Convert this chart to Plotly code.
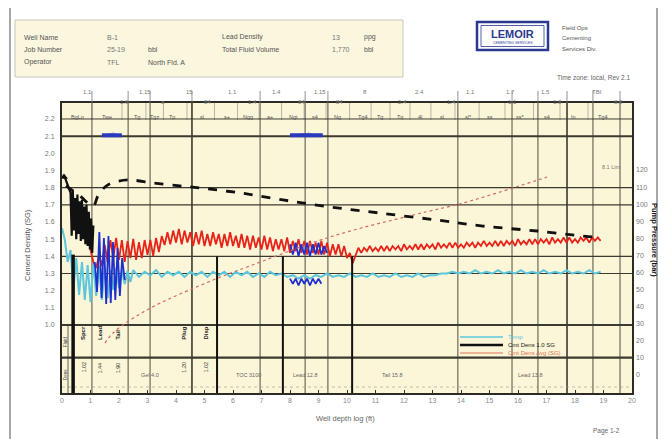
import plotly.graph_objects as go

# ---------------- data ----------------
x_ticks = list(range(0, 21))
left_ticks = [1.0, 1.1, 1.2, 1.3, 1.4, 1.5, 1.6, 1.7, 1.8, 1.9, 2.0, 2.1, 2.2]
right_ticks = [0, 10, 20, 30, 40, 50, 60, 70, 80, 90, 100, 110, 120]

# density (red), sampled every 0.1 from 0.8
red_x0, red_dx = 0.8, 0.1
red_vals = [1.641, 1.553, 1.437, 1.367, 1.332, 1.408, 1.344, 1.466, 1.367, 1.495,
            1.390, 1.507, 1.379, 1.495, 1.367, 1.489, 1.390, 1.501, 1.379, 1.483,
            1.390, 1.495, 1.408, 1.495, 1.402, 1.507, 1.425, 1.518, 1.466,
            1.54, 1.47, 1.55, 1.48, 1.56, 1.47, 1.55, 1.48, 1.54, 1.46,
            1.54, 1.47, 1.55, 1.46, 1.53, 1.46, 1.54, 1.47, 1.53, 1.45,
            1.53, 1.46, 1.54, 1.46, 1.52, 1.45, 1.53, 1.45, 1.52, 1.44,
            1.52, 1.45, 1.51, 1.44, 1.52, 1.44, 1.51, 1.43, 1.50, 1.44,
            1.50, 1.43, 1.51, 1.42, 1.49, 1.43, 1.50, 1.42, 1.49, 1.41,
            1.49, 1.42, 1.48, 1.41, 1.49, 1.41, 1.48, 1.40, 1.47, 1.41,
            1.47, 1.40, 1.46, 1.39, 1.42, 1.36, 1.40,
            1.45, 1.42, 1.45, 1.43, 1.46, 1.43, 1.45, 1.43, 1.46, 1.43,
            1.46, 1.43, 1.46, 1.44, 1.46, 1.43, 1.47, 1.44, 1.46, 1.44,
            1.47, 1.44, 1.47, 1.44, 1.47, 1.45, 1.47, 1.44, 1.48, 1.45,
            1.47, 1.45, 1.48, 1.45, 1.48, 1.45, 1.47, 1.45, 1.48, 1.46,
            1.48, 1.45, 1.48, 1.46, 1.49, 1.46, 1.48, 1.46, 1.49, 1.46,
            1.49, 1.46, 1.49, 1.47, 1.49, 1.46, 1.50, 1.47, 1.49, 1.47,
            1.50, 1.47, 1.50, 1.47, 1.50, 1.48, 1.50, 1.47, 1.51, 1.48,
            1.50, 1.48, 1.51, 1.48, 1.51, 1.48, 1.50, 1.48, 1.51, 1.49,
            1.51, 1.48, 1.51, 1.49, 1.51, 1.49]

# early density (black)
blk_x0, blk_dx = 0.3, 0.04
blk_vals = [1.77, 1.52, 1.78, 1.55, 1.74, 1.50, 1.76, 1.53, 1.72, 1.49, 1.73,
            1.50, 1.69, 1.47, 1.70, 1.46, 1.66, 1.44, 1.62, 1.42, 1.58]
blk_start_x = [0.10, 0.30]
blk_start_v = [1.86, 1.77]

# blue segments
blue1_x = [1.15, 1.23, 1.31, 1.39, 1.47, 1.55, 1.63, 1.71, 1.79, 1.87, 1.95, 2.03, 2.11, 2.2]
blue1_v = [1.367, 1.192, 1.542, 1.157, 1.507, 1.122, 1.518, 1.128, 1.483, 1.146, 1.448, 1.169, 1.390, 1.262]
blue2_x0, blue2_dx = 8.0, 0.1
blue2_v = [1.47, 1.41, 1.48, 1.40, 1.47, 1.41, 1.48, 1.40, 1.47, 1.41, 1.48, 1.41, 1.46, 1.42]
blue3_x0, blue3_dx = 8.0, 0.1
blue3_v = [1.27, 1.24, 1.27, 1.23, 1.27, 1.24, 1.27, 1.23, 1.27, 1.24, 1.27, 1.24]

# temperature-like (cyan)
cy1_x0, cy1_dx = 0.0, 0.1
cy1_v = [1.565, 1.495, 1.367, 1.437, 1.204, 1.390, 1.175, 1.367, 1.146, 1.349,
         1.134, 1.367, 1.169, 1.344, 1.146, 1.332, 1.157, 1.320, 1.204, 1.332,
         1.215, 1.320, 1.239, 1.314, 1.250]
cy2_x0, cy2_dx = 2.5, 0.2
cy2_v = [1.32, 1.28, 1.31, 1.29, 1.32, 1.28, 1.31, 1.29, 1.31, 1.28,
         1.31, 1.29, 1.31, 1.28, 1.31, 1.29, 1.31, 1.28, 1.31, 1.29,
         1.31, 1.28, 1.30, 1.28, 1.31, 1.29, 1.30, 1.28, 1.29, 1.27,
         1.29, 1.27, 1.29, 1.28, 1.30, 1.28, 1.29, 1.28, 1.30, 1.28,
         1.29, 1.28, 1.30, 1.28, 1.29, 1.28, 1.30, 1.28, 1.29, 1.28,
         1.30, 1.28, 1.29, 1.29, 1.30, 1.30, 1.31, 1.30, 1.31, 1.30,
         1.32, 1.30, 1.31, 1.30, 1.32, 1.30, 1.31, 1.30, 1.32, 1.30,
         1.31, 1.30, 1.32, 1.30, 1.31, 1.30, 1.32, 1.30, 1.31, 1.30,
         1.32, 1.30, 1.31]

# pump pressure (right axis, black dashed)
dash_x = [0.14, 0.63, 1.09, 1.26, 1.51, 1.75, 2.32, 3.19, 4.14, 4.84, 6.25, 7.75,
          9.40, 11.16, 13.16, 14.77, 16.67, 18.63, 18.88]
dash_v = [110.7, 104.8, 98.9, 104.8, 110.1, 112.4, 114.2, 112.4, 110.7, 109.5, 106.6,
          102.5, 98.4, 94.8, 90.7, 87.2, 84.3, 80.8, 80.8]

# cumulative volume (right axis, red dotted)
dot_x = [1.51, 1.79, 2.98, 5.30, 6.49, 9.40, 12.32, 14.07, 17.02]
dot_v = [18.7, 24.6, 38.1, 55.6, 63.2, 80.8, 93.7, 100.7, 115.9]

# events
event_x = [0.39, 5.44, 7.75, 10.18]
event_top = [1.41, 1.40, 1.40, 1.40]
event_w = [3.5, 2, 2, 2]
pump_bars = [(1.4, 2.1), (8.0, 9.15)]
pump_level = 2.105

grid_x = [1.05, 2.32, 3.09, 4.56, 6.95, 8.53, 9.33, 13.89, 15.79, 16.70, 17.72, 18.63, 19.58]
grid_x_bold = [4.56, 17.72]
grid_y = [(2.2, 1), (2.1, 2), (1.8, 1.2), (1.7, 1.2), (1.4, 1.2), (1.3, 1), (1.0, 2.2), (0.81, 2.2)]

col_labels = ["BgLo", "Twe", "Tg", "Tgz", "Tp", "sl", "s+", "Ngg", "a+", "Ngt", "s4",
              "Ng", "Tg4", "Tg", "Tq", "4l", "sl", "sl*", "ss", "ss*", "s4", "In", "Tg4"]
col_pos = [0.53, 1.58, 2.63, 3.26, 3.86, 4.91, 5.79, 6.53, 7.30, 8.11, 8.88, 9.65,
           10.53, 11.16, 11.86, 12.56, 13.33, 14.25, 15.02, 16.07, 17.02, 17.93, 18.98]

top_row1 = ["1.1", "1.15", "15", "1.1", "1.4", "1.15", "8", "2.4", "1.1", "1.7", "1.5", "TBI"]
top_row1_x = [0.91, 2.91, 4.46, 5.98, 7.51, 9.05, 10.63, 12.56, 14.32, 15.72, 16.95, 18.77]
top_row2 = ["1.6", "a", "84", "1.4", "84", "84", "2.4", "1.4", "1.1", "1.8", "8.8"]
top_row2_x = [2.21, 3.54, 5.09, 6.70, 8.42, 9.75, 11.93, 13.68, 15.79, 17.40, 19.51]

fluid_x = [0.74, 1.33, 1.96, 4.25, 5.02]
fluid_top = ["Spcr", "Lead", "Tail", "Plug", "Disp"]
fluid_bot = ["1.02", "1.44", "1.90", "1.20", "1.02"]
stage_x = [3.09, 6.53, 8.53, 11.58, 16.42]
stage_txt = ["Gel 4.0", "TOC 3100", "Lead 12.8", "Tail 15.8", "Lead 13.8"]

# ---------------- helpers for layout decorations ----------------
# the page body adds an 8px offset, so the figure is shifted up/left by 8px
OFF = 8
W, H = 667 - OFF, 439 - OFF
ML, MR, MT, MB = 62 - OFF, 35, 103 - OFF, 46
PW, PH = W - ML - MR, H - MT - MB
YL = (0.604, 2.293)
YR = (-10.54, 159.25)


def fx(p):  # reference-picture x pixel -> paper
    return (p - 62) / 570


def fy(p):  # reference-picture y pixel -> paper
    return (393 - p) / 290


def seq(x0, dx, vals):
    return [round(x0 + i * dx, 4) for i in range(len(vals))]


FONT = "Liberation Sans"
GRAY = "#6a6a6a"
LINE = "#3a3a30"
CREAM = "#fcf6d8"

fig = go.Figure()

fig.add_trace(go.Scatter(x=dot_x, y=dot_v, yaxis="y2", mode="lines", line_shape="spline",
                         line=dict(color="#d26a6a", width=1.2, dash="dot"), hoverinfo="skip"))
fig.add_trace(go.Scatter(x=dash_x, y=dash_v, yaxis="y2", mode="lines", line_shape="spline",
                         line=dict(color="#111", width=2.8, dash="dash"), hoverinfo="skip"))
fig.add_trace(go.Scatter(x=seq(cy1_x0, cy1_dx, cy1_v) + seq(cy2_x0, cy2_dx, cy2_v),
                         y=cy1_v + cy2_v, mode="lines",
                         line=dict(color="#5cc6dc", width=2), hoverinfo="skip"))
fig.add_trace(go.Scatter(x=seq(red_x0, red_dx, red_vals), y=red_vals, mode="lines",
                         line=dict(color="#e8231a", width=1.8), hoverinfo="skip"))
fig.add_trace(go.Scatter(x=blk_start_x + seq(blk_x0, blk_dx, blk_vals), y=blk_start_v + blk_vals,
                         mode="lines", line=dict(color="#111", width=2.2), hoverinfo="skip"))
fig.add_trace(go.Scatter(x=[0.07], y=[1.862], mode="markers",
                         marker=dict(symbol="triangle-up", size=7, color="#111"), hoverinfo="skip"))
bx = blue1_x + [None] + seq(blue2_x0, blue2_dx, blue2_v) + [None] + seq(blue3_x0, blue3_dx, blue3_v)
bv = blue1_v + [None] + blue2_v + [None] + blue3_v
fig.add_trace(go.Scatter(x=bx, y=bv, mode="lines", connectgaps=False,
                         line=dict(color="#2030cc", width=1.8), hoverinfo="skip"))
for a, b in pump_bars:
    fig.add_trace(go.Scatter(x=[a, b], y=[pump_level, pump_level], mode="lines",
                             line=dict(color="#2a3ac0", width=4), hoverinfo="skip"))
for ex, et, ew in zip(event_x, event_top, event_w):
    fig.add_trace(go.Scatter(x=[ex, ex], y=[YL[0], et], mode="lines",
                             line=dict(color="#111", width=ew), hoverinfo="skip"))

shapes = []
ann = []

for gx in grid_x:
    w = 1.6 if gx in grid_x_bold else 0.9
    shapes.append(dict(type="line", xref="x", yref="paper", x0=gx, x1=gx, y0=0, y1=1,
                       line=dict(color=LINE, width=w), layer="below"))
    shapes.append(dict(type="line", xref="x", yref="paper", x0=gx, x1=gx, y0=1, y1=fy(91),
                       line=dict(color="#777", width=0.8)))
for a, b in zip(col_pos[:-1], col_pos[1:]):
    m = (a + b) / 2
    shapes.append(dict(type="line", xref="x", yref="paper", x0=m, x1=m, y0=fy(120), y1=1,
                       line=dict(color="#888", width=0.6), layer="below"))
for gy, w in grid_y:
    shapes.append(dict(type="line", xref="paper", yref="y", x0=0, x1=1, y0=gy, y1=gy,
                       line=dict(color=LINE, width=w), layer="below"))
shapes.append(dict(type="line", xref="paper", yref="paper", x0=0, x1=1, y0=fy(387), y1=fy(387),
                   line=dict(color="#999", width=0.6, dash="dot"), layer="below"))
shapes.append(dict(type="line", xref="paper", yref="paper", x0=fx(68), x1=fx(68), y0=0, y1=fy(325),
                   line=dict(color=LINE, width=0.8)))

shapes.append(dict(type="rect", xref="paper", yref="paper", x0=fx(10), x1=fx(657), y0=fy(460), y1=fy(6),
                   line=dict(color="#8a8a8a", width=1.5), layer="below"))
shapes.append(dict(type="rect", xref="paper", yref="paper", x0=fx(15), x1=fx(403), y0=fy(77), y1=fy(20),
                   line=dict(color="#c8c8b8", width=1), fillcolor="#fbf6de", layer="below"))
shapes.append(dict(type="rect", xref="paper", yref="paper", x0=fx(477), x1=fx(548), y0=fy(50), y1=fy(22),
                   line=dict(color="#2a3990", width=2.5), fillcolor="white"))
shapes.append(dict(type="rect", xref="paper", yref="paper", x0=fx(481), x1=fx(544), y0=fy(46.5), y1=fy(25.5),
                   line=dict(color="#2a3990", width=0.8)))

leg = [("#5cc6dc", 1.6, 337, "Temp"), ("#111", 2.6, 345, "Cmt Dens 1.0 SG"),
       ("#e07050", 1.0, 353, "Cmt Dens Avg (SG)")]
for c, w, yy, t in leg:
    shapes.append(dict(type="line", xref="paper", yref="paper", x0=fx(460), x1=fx(503), y0=fy(yy), y1=fy(yy),
                       line=dict(color=c, width=w)))
    ann.append(dict(x=fx(506), y=fy(yy), xref="paper", yref="paper", text=t, showarrow=False,
                    xanchor="left", yanchor="middle",
                    font=dict(size=6, color="#222" if c == "#111" else c, family=FONT)))


def T(xp, yp, text, size=7, color=GRAY, xa="left", angle=0, bold=False, ya="middle"):
    ann.append(dict(x=fx(xp), y=fy(yp), xref="paper", yref="paper",
                    text=("<b>%s</b>" % text) if bold else text, showarrow=False,
                    xanchor=xa, yanchor=ya, textangle=angle,
                    font=dict(size=size, color=color, family=FONT)))


for i, (lab, val, unit) in enumerate([("Well Name", "B-1", ""), ("Job Number", "25-19", "bbl"),
                                       ("Operator", "TFL", "North Fld. A")]):
    yy = 37 + i * 12.5
    T(22, yy, lab, 7, "#555")
    T(105, yy, val, 7, "#777")
    T(146, yy, unit, 7, "#555")
for i, (lab, val, unit) in enumerate([("Lead Density", "13", "ppg"), ("Total Fluid Volume", "1,770", "bbl")]):
    yy = 37 + i * 12.5
    T(220, yy, lab, 7, "#555")
    T(330, yy, val, 7, "#777")
    T(362, yy, unit, 7, "#555")
T(512.5, 34, "LEMOIR", 11, "#2a3990", xa="center", bold=True)
T(512.5, 43, "CEMENTING SERVICES", 3.5, "#2a3990", xa="center")
T(560, 28, "Field Ops", 6, "#555")
T(560, 38, "Cementing", 6, "#555")
T(560, 49, "Services Div.", 6, "#555")
T(632, 78, "Time zone: local, Rev 2.1", 6.5, "#666", xa="right")

for t, xv in zip(top_row1, top_row1_x):
    ann.append(dict(x=xv, y=fy(87), xref="x", yref="paper", text=t, showarrow=False,
                    font=dict(size=6, color="#777", family=FONT)))
for t, xv in zip(top_row2, top_row2_x):
    ann.append(dict(x=xv, y=fy(97), xref="x", yref="paper", text=t, showarrow=False,
                    font=dict(size=6, color="#777", family=FONT)))
for t, xv in zip(col_labels, col_pos):
    ann.append(dict(x=xv, y=fy(112), xref="x", yref="paper", text=t, showarrow=False,
                    font=dict(size=5.5, color="#555", family=FONT)))
for (a, b), t in zip(pump_bars, ["calc", "ncalc"]):
    ann.append(dict(x=(a + b) / 2, y=fy(129), xref="x", yref="paper", text=t, showarrow=False,
                    font=dict(size=5, color="#2a3ac0", family=FONT)))
T(600, 167, "8.1 Lim", 5.5, "#777")

for xv, t1, t2 in zip(fluid_x, fluid_top, fluid_bot):
    ann.append(dict(x=xv, y=fy(342), xref="x", yref="paper", text="<b>%s</b>" % t1, showarrow=False,
                    textangle=-90, font=dict(size=6, color="#222", family=FONT)))
    ann.append(dict(x=xv, y=fy(375), xref="x", yref="paper", text=t2, showarrow=False,
                    textangle=-90, font=dict(size=5.5, color="#333", family=FONT)))
T(65, 342, "Fluid", 4.5, "#444", xa="center", angle=-90)
T(65, 375, "Dens", 4.5, "#444", xa="center", angle=-90)
for xv, t in zip(stage_x, stage_txt):
    ann.append(dict(x=xv, y=fy(380), xref="x", yref="paper", text=t, showarrow=False,
                    font=dict(size=5.5, color="#666", family=FONT)))

T(27, 245, "Cement Density (SG)", 7.5, "#555", xa="center", angle=-90)
T(654, 240, "Pump Pressure (bar)", 7.5, "#111", xa="center", angle=90, bold=True)
T(345, 418, "Well depth log (ft)", 7.5, "#666", xa="center")
T(606, 431, "Page 1-2", 6.5, "#666", xa="center")

fig.update_layout(
    width=W, height=H, autosize=False,
    margin=dict(l=ML, r=MR, t=MT, b=MB, pad=0),
    paper_bgcolor="white", plot_bgcolor=CREAM,
    showlegend=False,
    font=dict(family=FONT, size=7, color=GRAY),
    shapes=shapes, annotations=ann,
    xaxis=dict(range=[0, 20], tickvals=x_ticks, ticktext=[str(v) for v in x_ticks],
               showgrid=False, zeroline=False, ticks="inside", ticklen=3, tickcolor="#333",
               showline=True, mirror=True, linecolor="#2c2c24", linewidth=2,
               tickfont=dict(size=7, color="#888")),
    yaxis=dict(range=list(YL), tickvals=left_ticks, ticktext=["%.1f" % v for v in left_ticks],
               showgrid=False, zeroline=False, showline=True, mirror=True,
               linecolor="#2c2c24", linewidth=2, ticks="", ticklabelstandoff=4,
               tickfont=dict(size=7, color="#777")),
    yaxis2=dict(range=list(YR), overlaying="y", side="right", tickvals=right_ticks,
                ticktext=[str(v) for v in right_ticks], showgrid=False, zeroline=False,
                showline=False, ticks="", ticklabelstandoff=3,
                tickfont=dict(size=7, color="#777")),
)

fig.write_html("out.html")
